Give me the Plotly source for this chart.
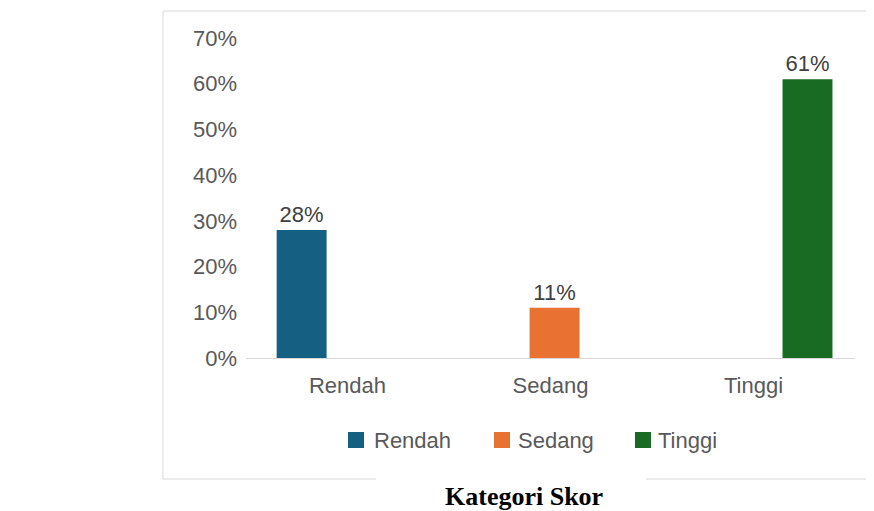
import plotly.graph_objects as go

categories = ["Rendah", "Sedang", "Tinggi"]
series_names = ["Rendah", "Sedang", "Tinggi"]
series_values = [
    [0.28, None, None],
    [None, 0.11, None],
    [None, None, 0.61],
]
colors = ["#156082", "#E97132", "#196B24"]
y_ticks = [0, 0.1, 0.2, 0.3, 0.4, 0.5, 0.6, 0.7]
x_title = "Kategori Skor"

# page body has an 8px margin; work in screen pixels and shift
OFF = 8
W, H = 874 - OFF, 511 - OFF
L, R, T, B = 246 - OFF, 19, 38 - OFF, 153
pw = W - L - R
ph = H - T - B

def px(x):
    return (x - OFF - L) / pw

def py(y):
    return (H - B - (y - OFF)) / ph

bar_w = 0.246
shift = 0.02

fig = go.Figure()
for i, (name, vals, col) in enumerate(zip(series_names, series_values, colors)):
    fig.add_trace(go.Bar(
        name=name, x=categories, y=vals, marker_color=col,
        marker_line_width=0, showlegend=False,
        width=bar_w, offset=(i - 1.5) * bar_w + shift,
        texttemplate="%{y:.0%}", textposition="outside",
        textfont=dict(size=22, color="#404040", family="Liberation Sans, Arial"),
        cliponaxis=False,
    ))

grey = "#D9D9D9"
shapes = [
    dict(type="line", xref="paper", yref="paper", x0=px(163), x1=px(163), y0=py(479), y1=py(11), line=dict(color=grey, width=1)),
    dict(type="line", xref="paper", yref="paper", x0=px(163), x1=px(900), y0=py(11), y1=py(11), line=dict(color=grey, width=1)),
    dict(type="line", xref="paper", yref="paper", x0=px(163), x1=px(376), y0=py(479), y1=py(479), line=dict(color=grey, width=1)),
    dict(type="line", xref="paper", yref="paper", x0=px(646), x1=px(900), y0=py(479), y1=py(479), line=dict(color=grey, width=1)),
]

annotations = []
# manual legend
leg_sq_x = [348, 494, 635]
leg_txt_x = [372, 516, 656]
leg_y = 440
for name, col, sx, tx in zip(series_names, colors, leg_sq_x, leg_txt_x):
    shapes.append(dict(type="rect", xref="paper", yref="paper",
                       x0=px(sx), x1=px(sx + 16), y0=py(leg_y - 8), y1=py(leg_y + 8),
                       fillcolor=col, line=dict(width=0)))
    annotations.append(dict(text=name, xref="paper", yref="paper", x=px(tx), y=py(leg_y),
                            xanchor="left", yanchor="middle", showarrow=False,
                            font=dict(size=22, color="#595959", family="Liberation Sans, Arial")))

annotations.append(dict(text="<b>" + x_title + "</b>", xref="paper", yref="paper",
                        x=px(524), y=py(496), showarrow=False, xanchor="center", yanchor="middle",
                        font=dict(family="Liberation Serif, Times New Roman", size=26, color="black")))

fig.update_layout(
    width=W, height=H,
    margin=dict(l=L, r=R, t=T, b=B),
    paper_bgcolor="white", plot_bgcolor="white",
    barmode="group", bargap=0.26, bargroupgap=0,
    font=dict(family="Liberation Sans, Arial", color="#595959", size=22),
    xaxis=dict(range=[-0.5, 2.5], showline=True, linecolor=grey, linewidth=1,
               showgrid=False, ticks="", ticklabelstandoff=8,
               tickfont=dict(size=22, color="#595959")),
    yaxis=dict(range=[0, 0.7], tickvals=y_ticks, tickformat=".0%", showgrid=False,
               zeroline=False, showline=False, ticks="", ticklabelstandoff=8,
               tickfont=dict(size=22, color="#595959")),
    showlegend=False,
    shapes=shapes,
    annotations=annotations,
)

fig.write_html("out.html")
